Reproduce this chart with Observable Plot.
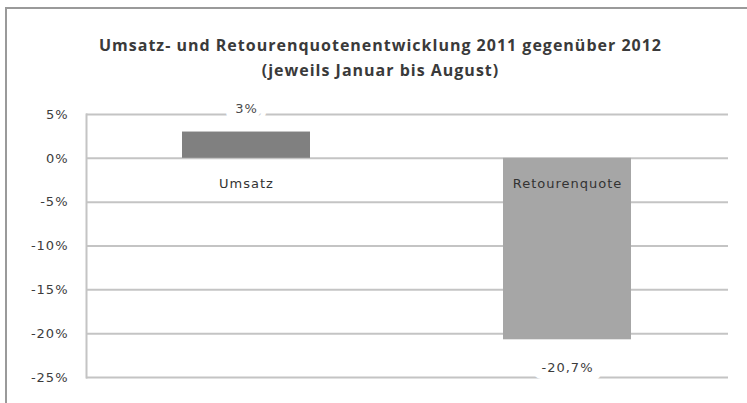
<!DOCTYPE html>
<html>
<head>
<meta charset="utf-8">
<script src="https://cdn.jsdelivr.net/npm/d3@7"></script>
<script src="https://cdn.jsdelivr.net/npm/@observablehq/plot@0.6"></script>
<style>
  html, body { margin: 0; padding: 0; background: #fff; }
  #wrap { position: relative; width: 747px; height: 403px; overflow: hidden; background: #fff; }
  #border { position: absolute; left: 5px; top: 7px; right: -10px; bottom: -10px;
            border-top: 2px solid #9a9a9a; border-left: 2px solid #9a9a9a; }
  #title { position: absolute; left: 0; top: 0; width: 747px; height: 100px; box-sizing: border-box;
           padding-top: 33px; padding-left: 14px; text-align: center;
           font-family: "Open Sans", sans-serif; font-weight: bold; font-size: 16px; letter-spacing: 1px;
           line-height: 25px; color: #3a3a3a; }
  #chart { position: absolute; left: 0; top: 100px; }
</style>
</head>
<body>
<div id="wrap">
  <div id="border"></div>
  <div id="title">Umsatz- und Retourenquotenentwicklung 2011 gegenüber 2012<br>(jeweils Januar bis August)</div>
  <div id="chart"></div>
</div>
<script>
const categories = ["Umsatz", "Retourenquote"];
const values = [3, -20.7];
const valueLabels = ["3%", "-20,7%"];
const barColors = ["#808080", "#a6a6a6"];
const yTicks = [5, 0, -5, -10, -15, -20, -25];
const yTickLabels = ["5%", "0%", "-5%", "-10%", "-15%", "-20%", "-25%"];

const data = categories.map((c, i) => ({cat: c, value: values[i], label: valueLabels[i]}));
const pos = data.filter(d => d.value >= 0);
const neg = data.filter(d => d.value < 0);

const chart = Plot.plot({
  width: 747,
  height: 303,
  marginTop: 14,
  marginBottom: 26,
  marginLeft: 86,
  marginRight: 19,
  style: {fontFamily: "'DejaVu Sans', sans-serif", background: "transparent", letterSpacing: "1px"},
  x: {domain: categories, paddingInner: 0.6, paddingOuter: 0.3, axis: null},
  y: {domain: [-25, 5], axis: null},
  color: {domain: categories, range: barColors},
  marks: [
    Plot.ruleY(yTicks, {stroke: "#c4c4c4", strokeWidth: 2}),
    Plot.frame({anchor: "left", stroke: "#c4c4c4", strokeWidth: 2}),
    Plot.barY(data, {x: "cat", y: "value", fill: "cat"}),
    Plot.text(yTicks, {x: null, y: d => d, text: (d, i) => yTickLabels[i], frameAnchor: "left", textAnchor: "end",
      dx: -18, fontSize: 13, fill: "#3c3c3c"}),
    Plot.text(pos, {x: "cat", y: "value", text: "label", dy: -23, fontSize: 13, fill: "#4a4a4a",
      stroke: "white", strokeWidth: 20, strokeLinejoin: "round"}),
    Plot.text(neg, {x: "cat", y: "value", text: "label", dy: 28, fontSize: 13, fill: "#3c3c3c",
      stroke: "white", strokeWidth: 20, strokeLinejoin: "round"}),
    Plot.text(data, {x: "cat", y: () => 0, text: "cat", dy: 25, fontSize: 13, fill: "#333"})
  ]
});
document.getElementById("chart").appendChild(chart);
</script>
</body>
</html>
